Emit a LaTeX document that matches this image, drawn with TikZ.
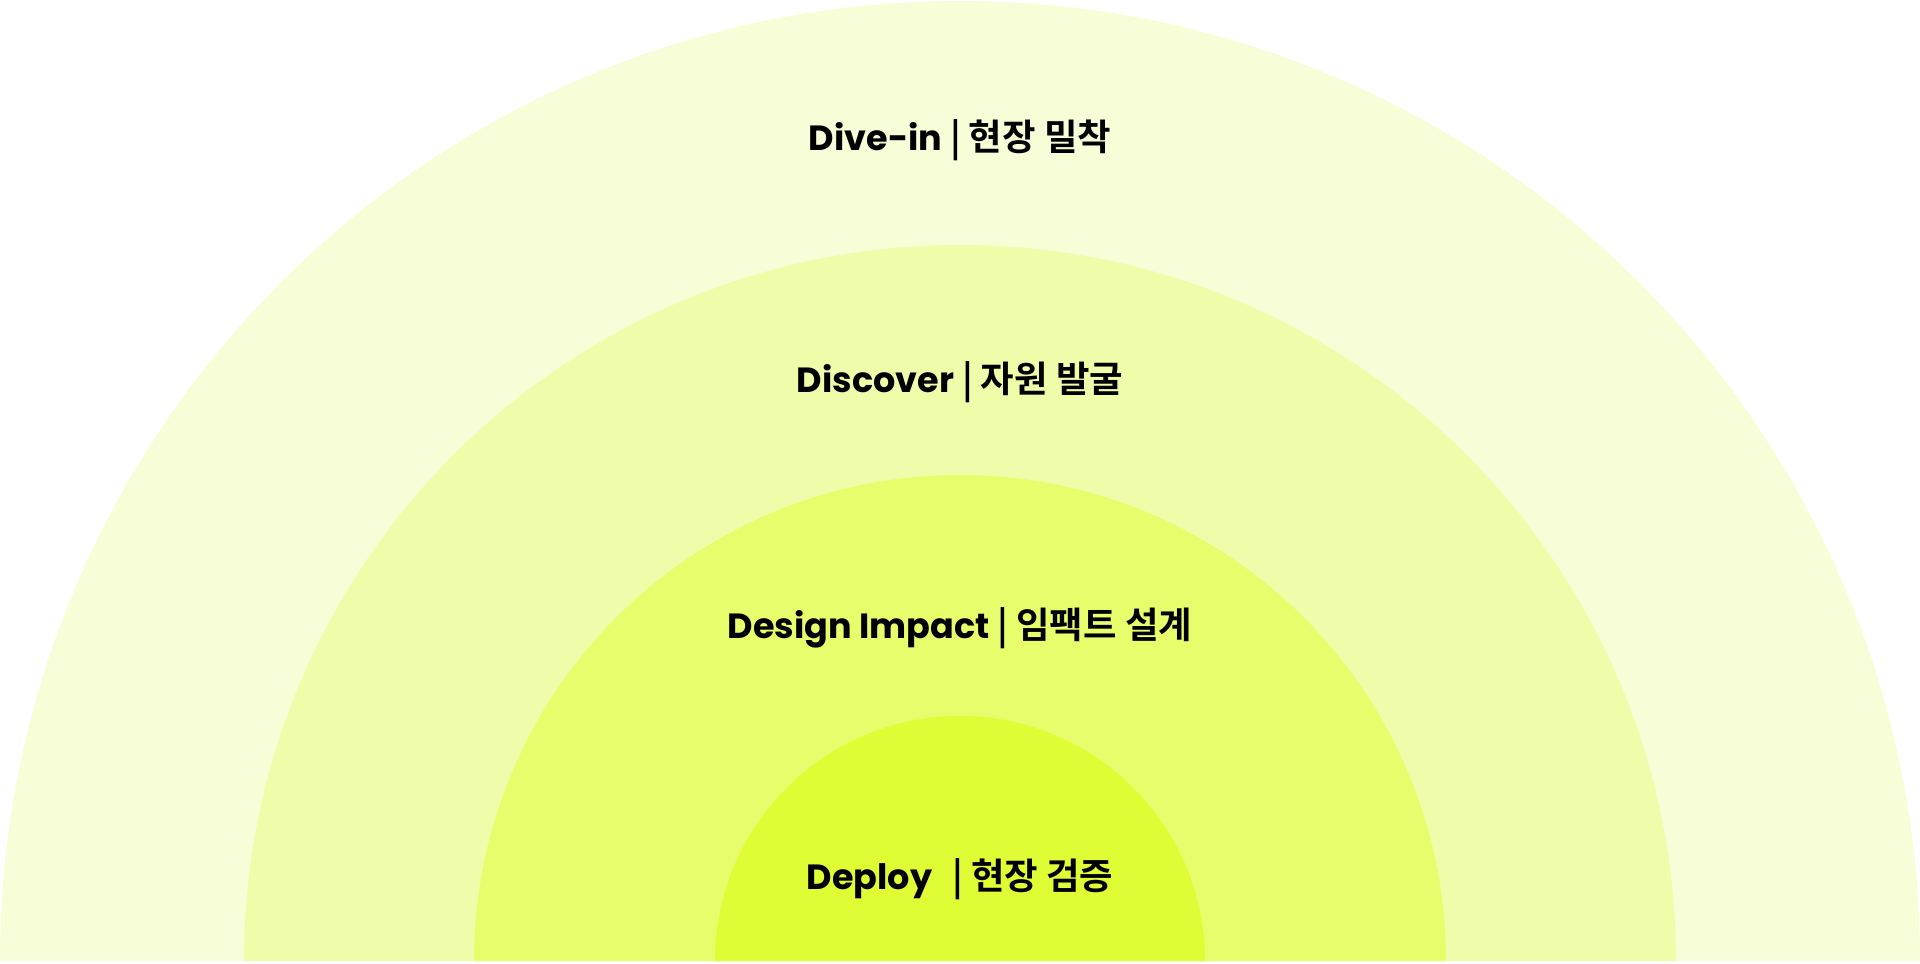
\documentclass[tikz,border=0pt]{standalone}
\usepackage{fontspec}
\setmainfont{Poppins}[BoldFont=* Bold]
\newfontfamily\kr{Noto Sans CJK KR}[BoldFont=* Bold,Scale=1.04]
\definecolor{ringA}{HTML}{F7FDD6}
\definecolor{ringB}{HTML}{EFFDAA}
\definecolor{ringC}{HTML}{E8FD6C}
\definecolor{ringD}{HTML}{E0FC35}
\newcommand{\sepbar}{\hspace{8pt}{\kr|}\hspace{8pt}}
\begin{document}
\begin{tikzpicture}[x=1pt,y=-1pt,
  label/.style={anchor=base, inner sep=0pt, font=\fontsize{35}{35}\selectfont\bfseries, text=black}]
\useasboundingbox (0,0) rectangle (1920,964);
\fill[ringA] (0,961) arc[start angle=180, end angle=0, x radius=960, y radius=-960] -- cycle;
\fill[ringB] (244,961) arc[start angle=180, end angle=0, x radius=716, y radius=-716] -- cycle;
\fill[ringC] (474,961) arc[start angle=180, end angle=0, x radius=486, y radius=-486] -- cycle;
\fill[ringD] (715,961) arc[start angle=180, end angle=0, x radius=245, y radius=-245] -- cycle;
\node[label] (divein) at (960,150) {Dive-in\sepbar{\kr 현장 밀착}};
\node[label] (discover) at (960,392) {Discover\sepbar{\kr 자원 발굴}};
\node[label] (design) at (960,638) {Design Impact\sepbar{\kr 임팩트 설계}};
\node[label] (deploy) at (960,889) {Deploy\hspace{20pt}{\kr|}\hspace{8pt}{\kr 현장 검증}};
\end{tikzpicture}
\end{document}
